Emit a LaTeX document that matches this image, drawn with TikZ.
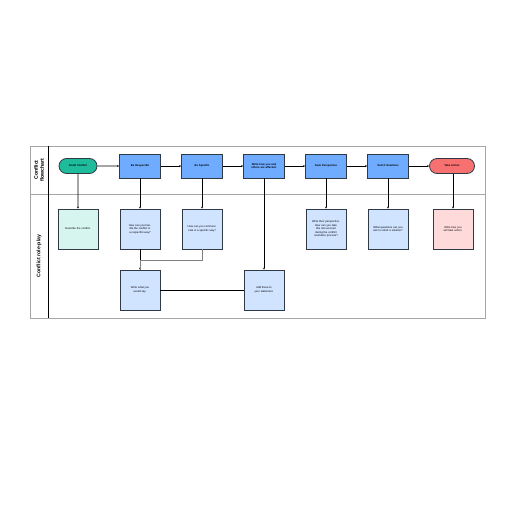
\documentclass[tikz,border=0pt]{standalone}
\usepackage{fontspec}
\setmainfont{Liberation Sans}
\usetikzlibrary{arrows.meta,shapes.misc}
\definecolor{teal1}{HTML}{1FBC9C}
\definecolor{blue1}{HTML}{6FACFF}
\definecolor{lblue}{HTML}{D0E3FF}
\definecolor{mint}{HTML}{D6F5EF}
\definecolor{pink1}{HTML}{FFDADA}
\definecolor{red1}{HTML}{F87171}
\definecolor{edge1}{HTML}{2F3A45}
\tikzset{
  base/.style={draw=edge1,line width=0.8pt,align=center,font=\fontsize{2.7}{3.6}\selectfont,inner sep=1pt},
  term/.style={base,rounded rectangle,minimum width=40pt,minimum height=15pt,text width=34pt},
  hdr/.style={base,fill=blue1,minimum width=41pt,minimum height=24pt,text width=36pt,font=\fontsize{2.7}{3.6}\selectfont\bfseries},
  card/.style={base,minimum width=40pt,minimum height=40pt,text width=30pt},
  conn/.style={draw=black,line width=0.6pt,-{Stealth[length=2pt,width=2pt]}},
  lane/.style={font=\fontsize{5.2}{6}\selectfont\bfseries,align=center,rotate=90}
}
\begin{document}
\begin{tikzpicture}[x=1pt,y=-1pt]
\useasboundingbox (0,0) rectangle (516,516);
% frame
\draw[draw=gray!70,line width=0.6pt] (30,146) rectangle (485,318);
\draw[draw=gray!70,line width=0.8pt] (30,194) -- (485,194);
\draw[draw=black,line width=0.7pt] (48,146) -- (48,318);
\node[lane] (l1) at (39,170) {Conflict\\flowchart};
\node[lane] (l2) at (39,256) {Conflict role-play};
% top row
\node[term,fill=teal1,font=\fontsize{2.7}{3.6}\selectfont\bfseries] (t0) at (78,166) {Small Conflict};
\node[hdr] (h1) at (140,166) {Be Respectful};
\node[hdr] (h2) at (202,166) {Be Specific};
\node[hdr] (h3) at (264,166) {Write how you and others are affected.};
\node[hdr] (h4) at (326,166) {Seek Perspective};
\node[hdr] (h5) at (388,166) {Solicit Solutions};
\node[term,fill=red1,minimum width=47pt,font=\fontsize{2.7}{3.6}\selectfont\bfseries] (t1) at (452,166) {Take Action};
% bottom cards
\node[card,fill=mint] (c0) at (78,229) {Describe the conflict.};
\node[card,fill=lblue] (c1) at (140,229) {How can you handle the conflict in a respectful way?};
\node[card,fill=lblue] (c2) at (202,229) {How can you communicate in a specific way?};
\node[card,fill=lblue] (c4) at (326,229) {Write their perspective. How can you take this into account during the conflict resolution process?};
\node[card,fill=lblue] (c5) at (388,229) {What questions can you ask to solicit a solution?};
\node[card,fill=pink1] (c6) at (453,229) {Write how you will take action.};
\node[card,fill=lblue] (d1) at (140,290) {Write what you would say.};
\node[card,fill=lblue] (d3) at (264,290) {Add these to your statement.};
% connectors
\draw[conn] (t0) -- (h1);
\draw[conn] (h1) -- (h2);
\draw[conn] (h2) -- (h3);
\draw[conn] (h3) -- (h4);
\draw[conn] (h4) -- (h5);
\draw[conn] (h5) -- (t1);
\draw[conn] (t0) -- (c0);
\draw[conn] (h1) -- (c1);
\draw[conn] (h2) -- (c2);
\draw[conn] (h3) -- (d3);
\draw[conn] (h4) -- (c4);
\draw[conn] (h5) -- (c5);
\draw[conn] (t1.south -| c6.north) -- (c6);
\draw[conn] (c1) -- (d1);
\draw[draw=gray,line width=0.6pt] (c2.south) -- ++(0,11) -| (c1.south |- d1.north);
\draw[draw=black,line width=0.6pt] (d1) -- (d3);
\end{tikzpicture}
\end{document}
